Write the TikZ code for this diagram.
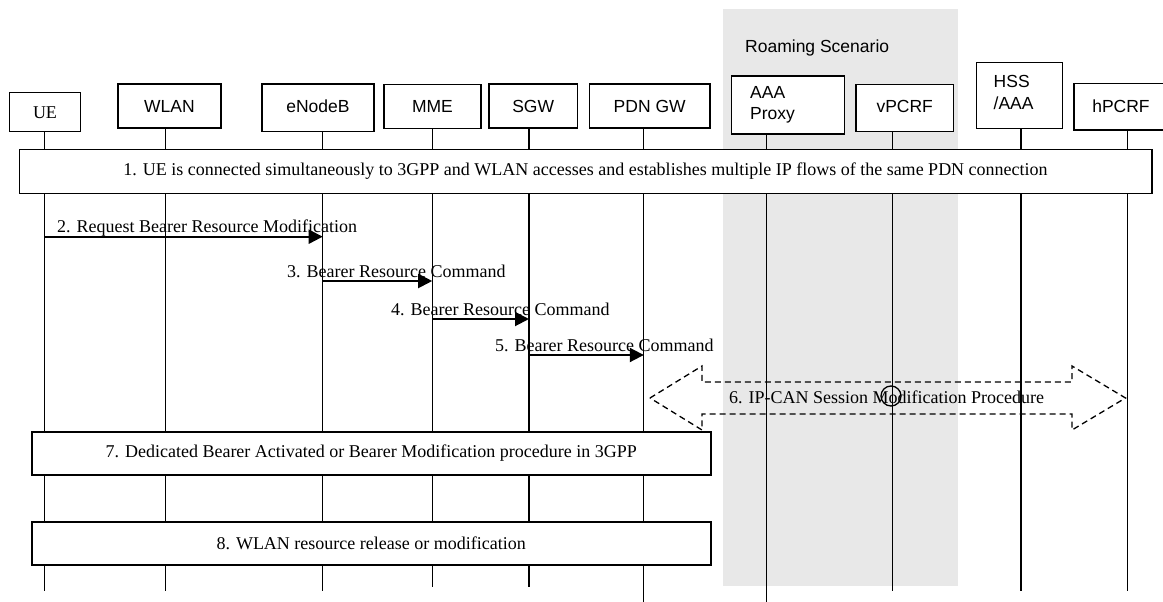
\documentclass[tikz,border=0pt]{standalone}
\usepackage{fontspec}
\setmainfont{Liberation Serif}
\newfontfamily\sansf{Liberation Sans}
\usetikzlibrary{arrows.meta}
\definecolor{roamgray}{RGB}{232,232,232}
\begin{document}
\begin{tikzpicture}[x=1pt,y=-1pt,
  ent/.style={draw, line width=1.3pt, fill=white, inner sep=0pt, font=\sansf\fontsize{17.5}{20}\selectfont},
  entserif/.style={ent, font=\fontsize{18}{21}\selectfont},
  enttext/.style={inner sep=0pt, align=left, anchor=west, font=\sansf\fontsize{17.5}{20.5}\selectfont},
  proc/.style={draw, line width=1.6pt, fill=white, inner sep=0pt, font=\fontsize{18}{21}\selectfont},
  lifeline/.style={line width=1.1pt},
  msg/.style={line width=2pt, -{Triangle[length=14pt,width=14pt]}},
  msglabel/.style={anchor=base west, inner sep=0pt, font=\fontsize{18}{21}\selectfont},
  dasharrow/.style={line width=1.3pt, dash pattern=on 6pt off 4pt},
]
\useasboundingbox (0,0) rectangle (1163,602);

% roaming background
\fill[roamgray] (722.7,9) rectangle (957.7,585.7);
\node[anchor=west, inner sep=0pt, font=\sansf\fontsize{17.5}{20}\selectfont] (roam) at (745,48) {Roaming Scenario};

% lifeline coordinates
\coordinate (ueT) at (44.3,131.7);   \coordinate (ueB) at (44.3,590.7);
\coordinate (wlT) at (165.3,128);    \coordinate (wlB) at (165.3,590.7);
\coordinate (enT) at (322.7,131.7);  \coordinate (enB) at (322.7,590.7);
\coordinate (mmT) at (432.2,128.3);  \coordinate (mmB) at (432.2,587.3);
\coordinate (sgT) at (529,128);      \coordinate (sgB) at (529,587.3);
\coordinate (pdT) at (643.8,128);    \coordinate (pdB) at (643.8,602);
\coordinate (aaT) at (766.3,134);    \coordinate (aaB) at (766.3,602);
\coordinate (vpT) at (892.5,131.7);  \coordinate (vpB) at (892.5,591);
\coordinate (hsT) at (1021,128.3);   \coordinate (hsB) at (1021,591);
\coordinate (hpT) at (1127.7,130);   \coordinate (hpB) at (1127.7,591);

\foreach \a/\b in {ueT/ueB, wlT/wlB, enT/enB, mmT/mmB, sgT/sgB, pdT/pdB, aaT/aaB, vpT/vpB, hsT/hsB, hpT/hpB}
  \draw[lifeline] (\a) -- (\b);

% entity boxes
\node[entserif, minimum width=71.4pt, minimum height=39pt] (ue) at (45,112.2) {UE};
\node[ent, minimum width=103pt, minimum height=44pt] (wlan) at (169.5,106) {WLAN};
\node[ent, minimum width=112pt, minimum height=47.7pt] (enb) at (318,107.9) {\raisebox{2.5pt}{eNodeB}};
\node[ent, minimum width=97pt, minimum height=44pt] (mme) at (432.5,106.3) {MME};
\node[ent, minimum width=88.3pt, minimum height=44pt] (sgw) at (533.2,106) {SGW};
\node[ent, minimum width=120.7pt, minimum height=44pt] (pgw) at (649.7,106) {PDN GW};
\node[ent, minimum width=112.6pt, minimum height=58pt] (aaa) at (788,105) {};
\node[enttext] (aaat) at (750,105) {AAA\\Proxy};
\node[ent, minimum width=97.3pt, minimum height=47.4pt] (vpcrf) at (904.7,108) {\raisebox{2.5pt}{vPCRF}};
\node[ent, minimum width=85.6pt, minimum height=65.6pt] (hss) at (1019.5,95.5) {};
\node[enttext, font=\sansf\fontsize{17.5}{21.6}\selectfont] (hsst) at (993.5,92.5) {HSS\\/AAA};
\node[ent, minimum width=101pt, minimum height=46.7pt] (hpcrf) at (1124.5,106.7) {};
\node[anchor=center, inner sep=0pt, font=\sansf\fontsize{17.5}{20}\selectfont] (hpcrft) at (1121,106.7) {hPCRF};

% process boxes
\node[proc, minimum width=1132.4pt, minimum height=44pt] (p1) at (585.5,171.3)
  {1. UE is connected simultaneously to 3GPP and WLAN accesses and establishes multiple IP flows of the same PDN connection};
\node[proc, minimum width=679pt, minimum height=43.3pt] (p7) at (371.2,453.4)
  {7. Dedicated Bearer Activated or Bearer Modification procedure in 3GPP};
\node[proc, minimum width=679pt, minimum height=43.3pt] (p8) at (371.2,543.4)
  {8. WLAN resource release or modification};

% messages
\coordinate (y2) at (0,236.7);
\coordinate (y3) at (0,281);
\coordinate (y4) at (0,319);
\coordinate (y5) at (0,355);
\draw[msg] (ueT |- y2) -- (enT |- y2);
\draw[msg] (enT |- y3) -- (mmT |- y3);
\draw[msg] (mmT |- y4) -- (sgT |- y4);
\draw[msg] (sgT |- y5) -- (pdT |- y5);
\node[msglabel] (l2) at (57,232.7) {2. Request Bearer Resource Modification};
\node[msglabel] (l3) at (287,277) {3. Bearer Resource Command};
\node[msglabel] (l4) at (391,315) {4. Bearer Resource Command};
\node[msglabel] (l5) at (495,351) {5. Bearer Resource Command};

% IP-CAN dashed double arrow
\coordinate (dl) at (650,398);
\coordinate (dr) at (1125.5,398);
\draw[dasharrow] (dl) -- (702,366) -- (702,382) -- (1072,382) -- (1072,366) -- (dr)
  -- (1072,430) -- (1072,414) -- (702,414) -- (702,430) -- cycle;
\node[msglabel] (l6) at (729,403.3) {6. IP-CAN Session Modification Procedure};
\draw[line width=1.3pt] (891,396) circle[radius=10pt];
\end{tikzpicture}
\end{document}
